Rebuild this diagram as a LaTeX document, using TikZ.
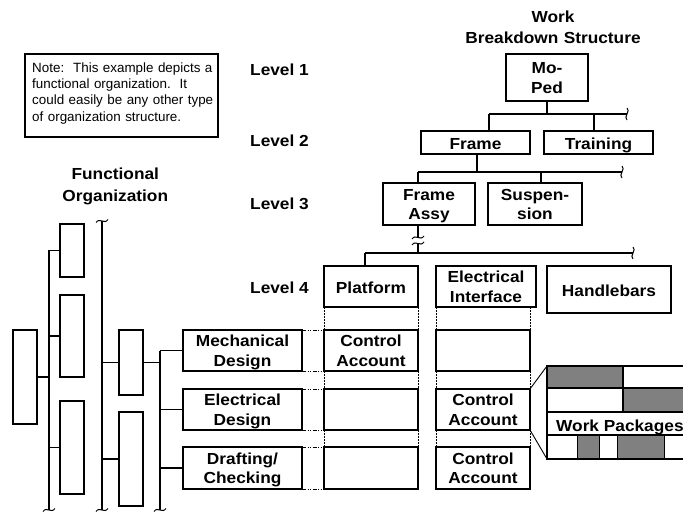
\documentclass[tikz,border=0pt]{standalone}
\usepackage{fontspec}
\setmainfont{Liberation Sans}
\newfontfamily\hbold{Liberation Sans}[FakeStretch=1.08]
\begin{document}
\begin{tikzpicture}[x=1pt,y=-1pt,
  lbl/.style={font=\hbold\bfseries\fontsize{16}{19.5}\selectfont},
  head/.style={font=\hbold\bfseries\fontsize{16}{21.3}\selectfont, text width=220, align=center, inner sep=0, anchor=base},
  bx/.style 2 args={draw, line width=1.8pt, inner sep=0, outer sep=0, align=center, lbl,
    minimum width=#1, text width=#1, minimum height=#2},
  one/.style={text height=13.4pt, text depth=0pt},
  two/.style={text height=12pt, text depth=19.5pt},
  link/.style={line width=1.3pt},
  thinlink/.style={line width=0.9pt},
  guide/.style={line width=0.8pt, dash pattern=on 1.5pt off 1.5pt},
  rowguide/.style={line width=0.8pt, dash pattern=on 4pt off 1.5pt on 1pt off 1.5pt on 1pt off 1.5pt},
  vbreak/.pic={\draw[line width=1pt] (0,-6) .. controls (4,-3) and (-4,3) .. (0,6);},
  hbreak/.pic={\draw[line width=1pt] (-6,1.5) .. controls (-2,-4) and (2,4) .. (6,-1.5);},
]
\useasboundingbox (0,0) rectangle (683,513);

% ---------- note ----------
\node[draw, line width=1.2pt, minimum width=193, minimum height=83, inner sep=0, outer sep=0] (note) at (121.5,95.5) {};
\node[anchor=base west, inner sep=0, text width=190, align=left, font=\fontsize{13.4}{16.3}\selectfont] (notetext) at (32,72.3)
  {Note:\ \ This example depicts a\\functional organization.\ \ It\\could easily be any other type\\of organization structure.};

% ---------- headings ----------
\node[head] (wbs) at (553,22.7) {Work\\Breakdown Structure};
\node[head] (forg) at (115.3,180) {Functional\\Organization};
\node[lbl, anchor=base west, inner sep=0] (lv1) at (250,75.7) {Level 1};
\node[lbl, anchor=base west, inner sep=0] (lv2) at (250,146.7) {Level 2};
\node[lbl, anchor=base west, inner sep=0] (lv3) at (250,209.8) {Level 3};
\node[lbl, anchor=base west, inner sep=0] (lv4) at (250,293.5) {Level 4};

% ---------- work breakdown structure ----------
\node[bx={82}{47}, two] (moped) at (547,77.5) {Mo-\\Ped};
\node[bx={109}{23}, one] (frame) at (475.5,142.5) {Frame};
\node[bx={109}{23}, one] (training) at (598.5,142.5) {Training};
\node[bx={92}{42}, two] (fassy) at (429,204) {Frame\\Assy};
\node[bx={94}{42}, two] (susp) at (535,204) {Suspen-\\sion};
\node[bx={94}{41}, one] (platform) at (371,286.5) {Platform};
\node[bx={100}{41}, two] (elint) at (486,286.5) {Electrical\\Interface};
\node[bx={124}{47}, one] (handle) at (609,289.5) {Handlebars};

% level 1 -> level 2
\coordinate (b1L) at (489,114);
\coordinate (b1T) at (594,114);
\coordinate (b1R) at (627,114);
\draw[link] (moped.south) -- (moped.south |- b1L);
\draw[link] (b1L) -- (b1R);
\draw[link] (b1L) -- (b1L |- frame.north);
\draw[link] (b1T) -- (b1T |- training.north);
\pic at (b1R) {vbreak};

% level 2 -> level 3
\coordinate (b2F) at (477,154);
\coordinate (b2L) at (418,172);
\coordinate (b2S) at (541,172);
\coordinate (b2R) at (622,172);
\draw[link] (b2F) -- (b2F |- b2L);
\draw[link] (b2L) -- (b2R);
\draw[link] (b2L) -- (b2L |- fassy.north);
\draw[link] (b2S) -- (b2S |- susp.north);
\pic at (b2R) {vbreak};

% level 3 -> level 4 (broken stem)
\coordinate (b3S) at (418,225);
\coordinate (cut1) at (418,237.5);
\coordinate (cut2) at (418,243.5);
\coordinate (b3M) at (418,253);
\coordinate (b3L) at (365,253);
\coordinate (b3R) at (633,253);
\draw[link] (b3S) -- (cut1);
\draw[link] (cut2) -- (b3M);
\pic at (cut1) {hbreak};
\pic at (cut2) {hbreak};
\draw[link] (b3L) -- (b3R);
\draw[link] (b3L) -- (b3L |- platform.north);
\pic at (b3R) {vbreak};

% ---------- control accounts ----------
\node[bx={94}{41}, two] (caP1) at (371,350.5) {Control\\Account};
\node[bx={94}{41}] (caP2) at (371,409.5) {};
\node[bx={94}{42}] (caP3) at (371,468) {};
\node[bx={94}{41}] (caE1) at (483,350.5) {};
\node[bx={94}{41}, two] (caE2) at (483,409.5) {Control\\Account};
\node[bx={94}{42}, two] (caE3) at (483,468) {Control\\Account};

% ---------- functional organization ----------
\node[bx={119}{41}, two] (mech) at (242.5,350.5) {Mechanical\\Design};
\node[bx={119}{41}, two] (elec) at (242.5,409.5) {Electrical\\Design};
\node[bx={119}{42}, two] (draft) at (242.5,468) {Drafting/\\Checking};

\node[bx={24}{94}] (orgL) at (25,377) {};
\node[bx={24}{53}] (orgA) at (72,250.5) {};
\node[bx={24}{82}] (orgB) at (72,336) {};
\node[bx={24}{93}] (orgC) at (72,447.5) {};
\node[bx={24}{65}] (orgD) at (131,362.5) {};
\node[bx={24}{94}] (orgE) at (131,459) {};

% spine 1
\coordinate (vA) at (49,510);
\draw[link] (vA |- orgA.west) -- (vA);
\draw[link] (vA |- orgA.west) -- (orgA.west);
\draw[link] (vA |- orgB.west) -- (orgB.west);
\draw[link] (vA |- orgC.west) -- (orgC.west);
\draw[link] (orgL.east) -- (orgL.east -| vA);
\pic at (vA) {hbreak};

% spine 2
\coordinate (vBtop) at (102,221);
\coordinate (vB) at (102,510);
\draw[link] (vBtop) -- (vB);
\draw[link] (vB |- orgD.west) -- (orgD.west);
\draw[link] (vB |- orgE.west) -- (orgE.west);
\pic at (vBtop) {hbreak};
\pic at (vB) {hbreak};

% spine 3
\coordinate (vC) at (160,510);
\draw[link] (vC |- mech.west) -- (vC);
\draw[link] (orgD.east) -- (orgD.east -| vC);
\draw[link] (vC |- mech.west) -- (mech.west);
\draw[link] (vC |- elec.west) -- (elec.west);
\draw[link] (vC |- draft.west) -- (draft.west);
\pic at (vC) {hbreak};

% ---------- guide lines ----------
\draw[rowguide] (mech.north east) -- (caP1.north west);
\draw[rowguide] (mech.south east) -- (caP1.south west);
\draw[rowguide] (elec.north east) -- (caP2.north west);
\draw[rowguide] (elec.south east) -- (caP2.south west);
\draw[rowguide] (draft.north east) -- (caP3.north west);
\draw[rowguide] (draft.south east) -- (caP3.south west);

\draw[guide] (platform.south west) -- (caP1.north west);
\draw[guide] (caP1.south west) -- (caP2.north west);
\draw[guide] (caP2.south west) -- (caP3.north west);
\draw[guide] (platform.south east) -- (caP1.north east);
\draw[guide] (caP1.south east) -- (caP2.north east);
\draw[guide] (caP2.south east) -- (caP3.north east);
\draw[guide] (elint.south west) -- (caE1.north west);
\draw[guide] (caE1.south west) -- (caE2.north west);
\draw[guide] (caE2.south west) -- (caE3.north west);
\draw[guide] (caE1.north east |- elint.south) -- (caE1.north east);
\draw[guide] (caE1.south east) -- (caE2.north east);
\draw[guide] (caE2.south east) -- (caE3.north east);

% ---------- work packages ----------
\fill[gray] (547,366) rectangle (623,388);
\fill[gray] (623,388) rectangle (690,412);
\fill[gray] (577,435) rectangle (599,459);
\fill[gray] (617,435) rectangle (664,459);
\node[draw, line width=1.8pt, inner sep=0, outer sep=0, minimum width=143, minimum height=93, anchor=north west] (wp) at (547,366) {};
\draw[line width=1.8pt] (547,388) -- (690,388);
\draw[line width=1.8pt] (547,412) -- (690,412);
\draw[line width=1.8pt] (547,435) -- (690,435);
\draw[line width=1.8pt] (623,366) -- (623,412);
\draw[line width=1pt] (577,435) -- (577,459);
\draw[line width=1pt] (599,435) -- (599,459);
\draw[line width=1pt] (617,435) -- (617,459);
\draw[line width=1pt] (664,435) -- (664,459);
\node[lbl, anchor=base west, inner sep=0] (wptext) at (556,431) {Work Packages};

\draw[thinlink] (caE2.north east) -- (wp.north west);
\draw[thinlink] (caE2.south east) -- (wp.south west);
\end{tikzpicture}
\end{document}
